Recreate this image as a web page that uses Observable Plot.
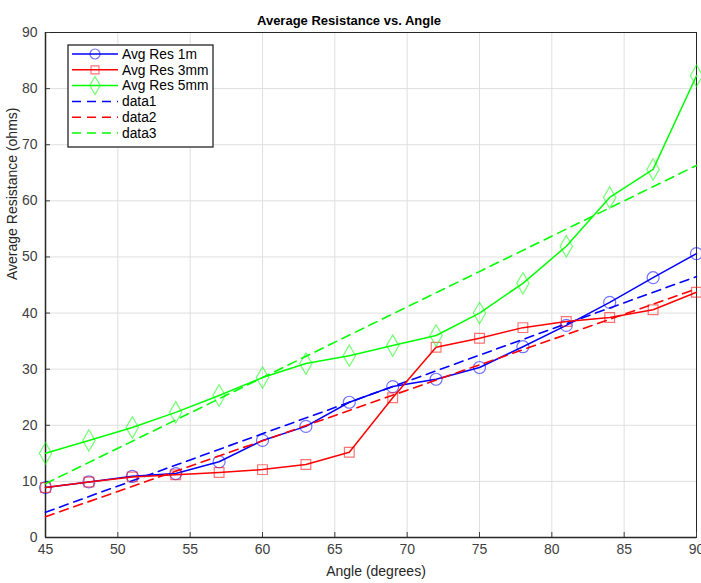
<!DOCTYPE html>
<html><head><meta charset="utf-8">
<script src="https://cdn.jsdelivr.net/npm/d3@7"></script>
<script src="https://cdn.jsdelivr.net/npm/@observablehq/plot@0.6"></script>
<style>body{margin:0;background:#fff;font-family:"Liberation Sans",Arial,sans-serif}</style>
</head><body><div id="chart"></div>
<script>
const angles = [45,48,51,54,57,60,63,66,69,72,75,78,81,84,87,90];
const res1m  = [8.9,9.9,10.9,11.4,13.5,17.3,19.8,24.1,26.9,28.2,30.3,34.0,37.8,41.9,46.3,50.6];
const res3mm = [8.9,9.9,10.8,11.2,11.6,12.1,13.0,15.2,24.9,33.9,35.5,37.4,38.5,39.2,40.6,43.7];
const res5mm = [15.0,17.3,19.6,22.3,25.3,28.5,31.0,32.4,34.2,36.0,40.0,45.3,51.9,60.6,65.6,82.3];
const fitAngles = [45,90];
const fit1 = [4.5,46.5];
const fit2 = [3.7,44.3];
const fit3 = [9.6,66.3];
const seriesNames = ["Avg Res 1m","Avg Res 3mm","Avg Res 5mm","data1","data2","data3"];
const colors = ["#0000ff","#ff0000","#00ff00"];
const symbols = ["circle","square","diamond"];
const xTicks = [45,50,55,60,65,70,75,80,85,90];
const yTicks = [0,10,20,30,40,50,60,70,80,90];
const title = "Average Resistance vs. Angle";
const xLabel = "Angle (degrees)";
const yLabel = "Average Resistance (ohms)";

const measured = [res1m,res3mm,res5mm];
const fits = [fit1,fit2,fit3];
const rows = [];
measured.forEach((s,i)=>angles.forEach((a,j)=>rows.push({x:a,y:s[j],k:i})));
const fitRows = [];
fits.forEach((s,i)=>fitAngles.forEach((a,j)=>fitRows.push({x:a,y:s[j],k:i})));

const marks = [
  Plot.gridX(xTicks,{stroke:"#dfdfdf",strokeOpacity:1}),
  Plot.gridY(yTicks,{stroke:"#dfdfdf",strokeOpacity:1}),
  Plot.frame({stroke:"#262626",strokeWidth:1}),
  Plot.axisX({ticks:xTicks,tickSize:-5,tickPadding:12,tickFormat:d=>d,label:null,fontSize:14,color:"#404040"}),
  Plot.axisY({ticks:yTicks,tickSize:-5,tickPadding:13,tickFormat:d=>d,label:null,fontSize:14,color:"#404040"}),
  Plot.ruleY([0],{stroke:"#262626",strokeWidth:1.5}),
  Plot.ruleX([45],{stroke:"#262626",strokeWidth:1.5}),
];
[0,1,2].forEach(i=>{
  const d = rows.filter(r=>r.k===i);
  const f = fitRows.filter(r=>r.k===i);
  marks.push(Plot.line(f,{x:"x",y:"y",stroke:colors[i],strokeWidth:1.6,strokeDasharray:"9,6"}));
  marks.push(Plot.line(d,{x:"x",y:"y",stroke:colors[i],strokeWidth:1.5}));
  marks.push(Plot.dot(d,{x:"x",y:"y",stroke:colors[i],strokeOpacity:0.55,strokeWidth:1.2,symbol:symbols[i],r:i===0?6:(i===1?5.5:6.5),fill:"none"}));
});
marks.push(Plot.text([title],{text:d=>d,frameAnchor:"top",dx:-22,dy:-17,fontSize:13,fontWeight:"bold",fill:"#000"}));
marks.push(Plot.text([xLabel],{text:d=>d,frameAnchor:"bottom",dx:5,dy:38,fontSize:14,fill:"#262626"}));
marks.push(Plot.text([yLabel],{text:d=>d,frameAnchor:"left",dx:-33,dy:-5,rotate:-90,fontSize:14,fill:"#262626"}));

const plot = Plot.plot({
  width:701,height:583,
  marginLeft:45,marginRight:5,marginTop:32,marginBottom:46,
  style:{fontFamily:"'Liberation Sans',Arial,sans-serif",fontSize:"14px",background:"#fff",overflow:"visible"},
  x:{domain:[45,90]},
  y:{domain:[0,90]},
  marks
});
document.getElementById("chart").appendChild(plot);

// legend
const svg = d3.select(plot);
const lg = svg.append("g").attr("transform","translate(68,45)").attr("text-anchor","start");
lg.append("rect").attr("x",0).attr("y",0).attr("width",145).attr("height",102).attr("fill","#fff").attr("stroke","#262626").attr("stroke-width",1.3);
const sym = [d3.symbolCircle,d3.symbolSquare,d3.symbolDiamond];
seriesNames.forEach((name,i)=>{
  const y = 9 + i*15.8;
  const c = colors[i%3];
  const g = lg.append("g");
  g.append("line").attr("x1",4).attr("x2",50).attr("y1",y).attr("y2",y).attr("stroke",c).attr("stroke-width",1.5)
    .attr("stroke-dasharray", i>=3 ? "9,6" : null);
  if(i<3){
    g.append("path").attr("d",d3.symbol(sym[i], Math.PI*[5,4.5,5.5][i]**2)()).attr("transform",`translate(27,${y})`)
      .attr("fill","none").attr("stroke",c).attr("stroke-opacity",0.55).attr("stroke-width",1.2);
  }
  g.append("text").attr("x",54).attr("y",y).attr("dy","0.35em").attr("font-size",13.8).attr("fill","#000").text(name);
});
</script></body></html>
